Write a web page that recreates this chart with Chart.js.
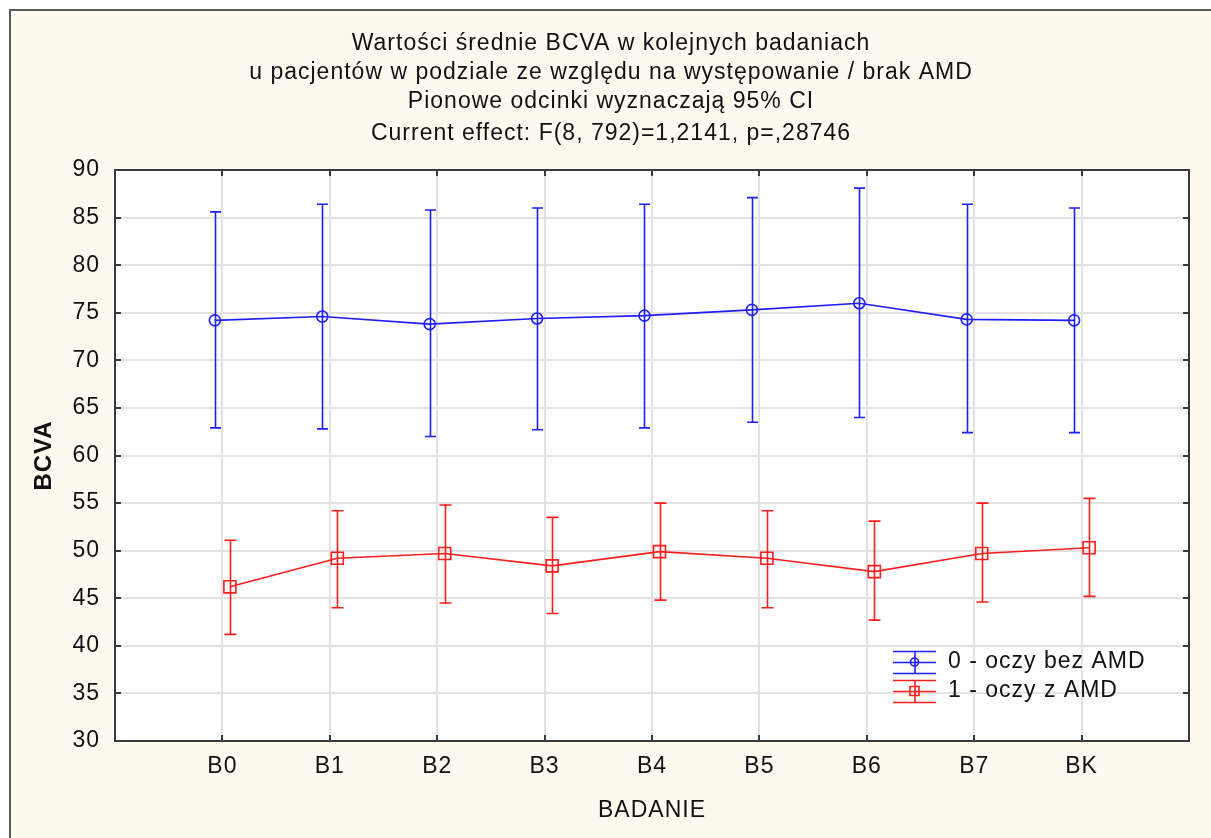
<!DOCTYPE html>
<html>
<head>
<meta charset="utf-8">
<title>BCVA</title>
<script src="https://cdn.jsdelivr.net/npm/chart.js@4.4.1/dist/chart.umd.min.js"></script>
<style>
  html, body { margin: 0; padding: 0; background: #fff; }
  canvas { display: block; }
</style>
</head>
<body>
<canvas id="bcva-chart" width="1211" height="838"></canvas>
<script>
// Kolejne badania (os X)
const badania = ['B0', 'B1', 'B2', 'B3', 'B4', 'B5', 'B6', 'B7', 'BK'];

// Grupa 0 - oczy bez AMD: srednie i granice 95% CI
const sredniaBezAmd = [74.2, 74.6, 73.8, 74.4, 74.7, 75.3, 76.0, 74.3, 74.2];
const dolnaBezAmd   = [62.9, 62.8, 62.0, 62.7, 62.9, 63.5, 64.0, 62.4, 62.4];
const gornaBezAmd   = [85.6, 86.4, 85.8, 86.0, 86.4, 87.1, 88.1, 86.4, 86.0];

// Grupa 1 - oczy z AMD
const sredniaAmd = [46.2, 49.2, 49.7, 48.4, 49.9, 49.2, 47.8, 49.7, 50.3];
const dolnaAmd   = [41.2, 44.0, 44.5, 43.4, 44.8, 44.0, 42.7, 44.6, 45.2];
const gornaAmd   = [51.1, 54.2, 54.8, 53.5, 55.0, 54.2, 53.1, 55.0, 55.5];

const nazwySerii = ['0 - oczy bez AMD', '1 - oczy z AMD'];

const tytul = [
    'Wartości średnie BCVA w kolejnych badaniach',
    'u pacjentów w podziale ze względu na występowanie / brak AMD',
    'Pionowe odcinki wyznaczają 95% CI'
];
const efekt = 'Current effect: F(8, 792)=1,2141, p=,28746';

const yMin = 30;
const yMax = 90;
const yKrok = 5;

const FONT = '"Liberation Sans", Arial, sans-serif';
const ROZMIAR = 23;
const NIEBIESKI = 'rgb(30, 30, 255)';
const CZERWONY = 'rgb(255, 30, 30)';
const TLO = '#fef9ee';

// przesuniecie punktow obu grup wzgledem kategorii, zeby wasy sie nie nakladaly
const PRZES = 0.07;

function punkty(srednie, dx) {
    return srednie.map((v, i) => ({ x: i + dx, y: v }));
}

// Tlo, ramka wykresu i tytul
const tloPlugin = {
    id: 'tlo',
    beforeDraw(chart) {
        const ctx = chart.ctx;
        // szersze odstepy miedzy literami dla wszystkich napisow
        ctx.letterSpacing = '1px';
        ctx.save();
        ctx.fillStyle = '#fff';
        ctx.fillRect(0, 0, chart.width, chart.height);
        ctx.fillStyle = TLO;
        ctx.fillRect(10, 10, chart.width - 10, chart.height - 10);
        const a = chart.chartArea;
        ctx.fillStyle = '#fff';
        ctx.fillRect(a.left, a.top, a.right - a.left, a.bottom - a.top);
        ctx.strokeStyle = '#5a5a5a';
        ctx.lineWidth = 2;
        ctx.beginPath();
        ctx.moveTo(10, chart.height);
        ctx.lineTo(10, 10);
        ctx.lineTo(chart.width, 10);
        ctx.stroke();

        ctx.fillStyle = '#111';
        ctx.font = ROZMIAR + 'px ' + FONT;
        ctx.textAlign = 'center';
        ctx.textBaseline = 'middle';
        const cx = 611;
        tytul.forEach((t, i) => ctx.fillText(t, cx, 44 + i * 29));
        ctx.fillText(efekt, cx, 134);
        ctx.restore();
    }
};

// Przedzialy ufnosci jako pionowe odcinki z wasami
function rysujWasy(chart, dsIndex, dolne, gorne, kolor, polWasa) {
    const ctx = chart.ctx;
    const y = chart.scales.y;
    const meta = chart.getDatasetMeta(dsIndex);
    ctx.save();
    ctx.strokeStyle = kolor;
    ctx.lineWidth = 1.6;
    meta.data.forEach((pt, i) => {
        const px = Math.round(pt.x) + 0.5;
        const y1 = y.getPixelForValue(dolne[i]);
        const y2 = y.getPixelForValue(gorne[i]);
        ctx.beginPath();
        ctx.moveTo(px, y1);
        ctx.lineTo(px, y2);
        ctx.moveTo(px - polWasa, y1);
        ctx.lineTo(px + polWasa, y1);
        ctx.moveTo(px - polWasa, y2);
        ctx.lineTo(px + polWasa, y2);
        ctx.stroke();
    });
    ctx.restore();
}

const wasyPlugin = {
    id: 'wasy',
    afterDatasetsDraw(chart) {
        rysujWasy(chart, 0, dolnaBezAmd, gornaBezAmd, NIEBIESKI, 5.5);
        rysujWasy(chart, 1, dolnaAmd, gornaAmd, CZERWONY, 6);
    }
};

// Ramka obszaru danych, kreski podzialki skierowane do srodka, legenda
const ramkaPlugin = {
    id: 'ramka',
    afterDraw(chart) {
        const ctx = chart.ctx;
        const a = chart.chartArea;
        const xs = chart.scales.x;
        const ys = chart.scales.y;
        ctx.save();
        ctx.strokeStyle = '#3a3a3a';
        ctx.lineWidth = 2;
        ctx.strokeRect(a.left, a.top, a.right - a.left, a.bottom - a.top);

        const dl = 6;
        ctx.beginPath();
        for (let v = yMin + yKrok; v < yMax; v += yKrok) {
            const py = Math.round(ys.getPixelForValue(v));
            ctx.moveTo(a.left, py);
            ctx.lineTo(a.left + dl, py);
            ctx.moveTo(a.right, py);
            ctx.lineTo(a.right - dl, py);
        }
        badania.forEach((_, i) => {
            const px = Math.round(xs.getPixelForValue(i));
            ctx.moveTo(px, a.top);
            ctx.lineTo(px, a.top + dl);
            ctx.moveTo(px, a.bottom);
            ctx.lineTo(px, a.bottom - dl);
        });
        ctx.stroke();

        // legenda w prawym dolnym rogu
        const lx = 893, lw = 43;
        const wiersze = [
            { y: 662, kolor: NIEBIESKI, styl: 'circle' },
            { y: 691, kolor: CZERWONY, styl: 'rect' }
        ];
        wiersze.forEach((w, i) => {
            const ds = chart.data.datasets[i];
            ctx.strokeStyle = w.kolor;
            ctx.lineWidth = 1.6;
            ctx.beginPath();
            [-11, 0, 11].forEach(d => {
                ctx.moveTo(lx, w.y + d + 0.5);
                ctx.lineTo(lx + lw, w.y + d + 0.5);
            });
            ctx.moveTo(lx + lw / 2 + 0.5, w.y - 11);
            ctx.lineTo(lx + lw / 2 + 0.5, w.y + 11);
            ctx.stroke();
            ctx.beginPath();
            if (w.styl === 'circle') {
                ctx.arc(lx + lw / 2, w.y, 4, 0, Math.PI * 2);
            } else {
                ctx.rect(lx + lw / 2 - 4.5, w.y - 4.5, 9, 9);
            }
            ctx.stroke();
            ctx.fillStyle = '#111';
            ctx.font = ROZMIAR + 'px ' + FONT;
            ctx.textAlign = 'left';
            ctx.textBaseline = 'middle';
            ctx.fillText(ds.label, 948, w.y);
        });
        ctx.restore();
    }
};

const ctx = document.getElementById('bcva-chart').getContext('2d');
const chart = new Chart(ctx, {
    type: 'line',
    data: {
        datasets: [
            {
                label: nazwySerii[0],
                data: punkty(sredniaBezAmd, -PRZES),
                borderColor: NIEBIESKI,
                borderWidth: 1.6,
                pointStyle: 'circle',
                pointRadius: 5.5,
                pointBorderWidth: 1.6,
                pointBorderColor: NIEBIESKI,
                pointBackgroundColor: 'rgba(0,0,0,0)',
                tension: 0
            },
            {
                label: nazwySerii[1],
                data: punkty(sredniaAmd, PRZES),
                borderColor: CZERWONY,
                borderWidth: 1.6,
                pointStyle: 'rect',
                pointRadius: 8.5,
                pointBorderWidth: 1.6,
                pointBorderColor: CZERWONY,
                pointBackgroundColor: 'rgba(0,0,0,0)',
                tension: 0
            }
        ]
    },
    options: {
        responsive: false,
        animation: false,
        devicePixelRatio: 1,
        layout: { padding: { top: 170, right: 22, left: 0, bottom: 0 } },
        plugins: {
            legend: { display: false },
            title: { display: false },
            tooltip: { enabled: false }
        },
        scales: {
            x: {
                type: 'linear',
                min: -1,
                max: badania.length,
                afterFit(scale) { scale.height = 97; },
                afterBuildTicks(scale) {
                    scale.ticks = [];
                    for (let v = -1; v <= badania.length; v++) scale.ticks.push({ value: v });
                },
                ticks: {
                    autoSkip: false,
                    maxRotation: 0,
                    padding: 12,
                    color: '#111',
                    font: { family: FONT, size: ROZMIAR },
                    callback: (v) => badania[v] !== undefined ? badania[v] : ''
                },
                grid: { color: '#e2e2e2', lineWidth: 2, drawTicks: false },
                border: { display: false },
                title: {
                    display: true,
                    text: 'BADANIE',
                    color: '#111',
                    font: { family: FONT, size: ROZMIAR },
                    padding: { top: 0, bottom: 14 }
                }
            },
            y: {
                min: yMin,
                max: yMax,
                afterFit(scale) { scale.width = 115; },
                ticks: {
                    stepSize: yKrok,
                    padding: 15,
                    color: '#111',
                    font: { family: FONT, size: ROZMIAR }
                },
                grid: { color: '#e2e2e2', lineWidth: 2, drawTicks: false },
                border: { display: false },
                title: {
                    display: true,
                    text: 'BCVA',
                    color: '#111',
                    font: { family: FONT, size: 24, weight: 'bold' },
                    padding: { top: 30, bottom: 0 }
                }
            }
        }
    },
    plugins: [tloPlugin, wasyPlugin, ramkaPlugin]
});
</script>
</body>
</html>
